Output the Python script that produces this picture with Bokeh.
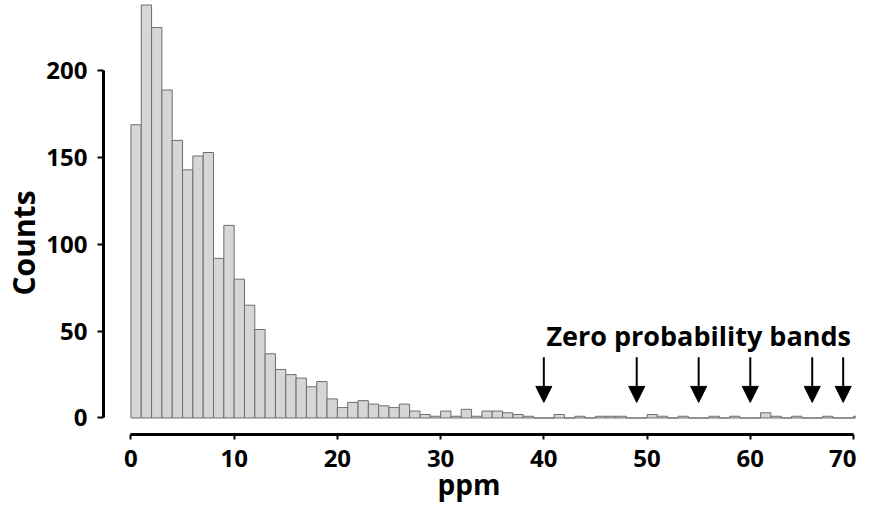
from bokeh.plotting import figure
from bokeh.models import (ColumnDataSource, Arrow, NormalHead, Label,
                          FixedTicker, Range1d, Title)
from bokeh.embed import file_html
from bokeh.resources import INLINE

# ---- data (1-ppm bins) ----
bin_left = list(range(0, 72))
counts = [169, 238, 225, 189, 160, 143, 151, 153, 92, 111,
          80, 65, 51, 37, 28, 25, 23, 18, 21, 11,
          6, 9, 10, 8, 7, 6, 8, 4, 2, 1,
          4, 1, 5, 1, 4, 4, 3, 2, 1, 0,
          0, 2, 0, 1, 0, 1, 1, 1, 0, 0,
          2, 1, 0, 1, 0, 0, 1, 0, 1, 0,
          0, 3, 1, 0, 1, 0, 0, 1, 0, 0,
          1, 0]
bands = [40, 49, 55, 60, 66, 69, 72]
x_ticks = [0, 10, 20, 30, 40, 50, 60, 70]
y_ticks = [0, 50, 100, 150, 200]

FONT = "Open Sans"

src = ColumnDataSource(dict(
    left=bin_left,
    right=[b + 1 for b in bin_left],
    top=counts,
    bottom=[0] * len(counts),
))

p = figure(width=856, height=508, output_backend="svg", toolbar_location=None,
           title=None,
           x_range=Range1d(-2.657, 70.29), y_range=Range1d(-9.51, 240.6),
           min_border_left=101, min_border_right=0, min_border_top=0,
           min_border_bottom=74)
p.outline_line_color = None
p.xgrid.visible = False
p.ygrid.visible = False

p.quad(left="left", right="right", top="top", bottom="bottom", source=src,
       fill_color="#d6d6d6", line_color="#6e6e6e", line_width=1)

# arrows marking zero-probability bands
arr_src = ColumnDataSource(dict(x0=bands, x1=bands,
                                y0=[35] * len(bands), y1=[9] * len(bands)))
p.add_layout(Arrow(x_start="x0", y_start="y0", x_end="x1", y_end="y1",
                   source=arr_src, line_color="black", line_width=2,
                   end=NormalHead(size=16, fill_color="black",
                                  line_color="black", line_width=1)))

p.add_layout(Label(x=55.0, y=47.7, text="Zero probability bands",
                   text_align="center", text_baseline="alphabetic",
                   text_font=FONT, text_font_style="bold",
                   text_font_size="27px", text_color="black"))

for ax, ticks, bounds in ((p.xaxis[0], x_ticks, (0, 70)),
                          (p.yaxis[0], y_ticks, (0, 200))):
    ax.ticker = FixedTicker(ticks=ticks)
    ax.bounds = bounds
    ax.axis_line_width = 3
    ax.axis_line_color = "black"
    ax.major_tick_line_width = 2
    ax.major_tick_line_color = "black"
    ax.major_tick_in = 0
    ax.minor_tick_out = 0
    ax.minor_tick_in = 0
    ax.major_label_text_font = FONT
    ax.major_label_text_font_style = "bold"
    ax.major_label_text_font_size = "24px"
    ax.major_label_text_color = "black"

p.xaxis[0].major_tick_out = 5
p.xaxis[0].major_label_standoff = 10
p.yaxis[0].major_tick_out = 6
p.yaxis[0].major_label_standoff = 10

p.add_layout(Title(text="Counts", align="left", offset=139, standoff=0,
                   text_font=FONT, text_font_style="bold",
                   text_font_size="30px", text_color="black"), "left")
p.add_layout(Title(text="ppm", align="left", offset=334, standoff=-13,
                   text_font=FONT, text_font_style="bold",
                   text_font_size="28px", text_color="black"), "below")

open("out.html", "w").write(file_html(p, INLINE))
